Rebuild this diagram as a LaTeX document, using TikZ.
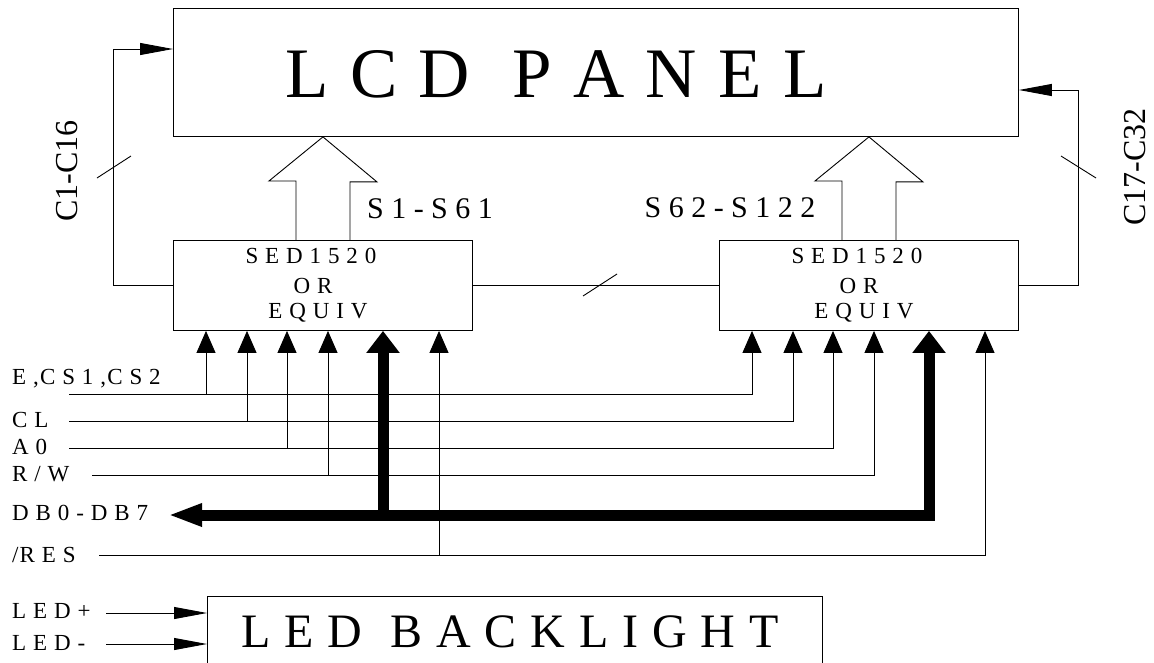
\documentclass[tikz,border=0pt]{standalone}
\usepackage{fontspec}
\setmainfont{Liberation Serif}
\usetikzlibrary{arrows.meta,calc}

\begin{document}
\begin{tikzpicture}[x=1pt,y=-1pt,
  box/.style={draw, line width=0.9pt, inner sep=0pt, anchor=north west},
  sig/.style={line width=0.9pt},
  pin/.style={sig, -{Triangle[length=22pt,width=19pt]}},
  side/.style={sig, -{Triangle[length=33pt,width=12pt]}},
  bus/.style={line width=11pt},
  lbl/.style={anchor=base west, inner sep=0pt, font=\fontsize{23}{23}\selectfont\addfontfeature{LetterSpace=5}},
  chiptxt/.style={anchor=base, inner sep=0pt, font=\fontsize{23}{23}\selectfont\addfontfeature{LetterSpace=5}}]
\clip (0,0) rectangle (1154,662);
%
\node[box, minimum width=845pt, minimum height=128pt] (lcd) at (173,8) {};
\node[anchor=base, inner sep=0pt, font=\fontsize{71}{71}\selectfont\addfontfeature{LetterSpace=5}] at (556,97) {L C D\ \ P A N E L};
%
\node[box, minimum width=299pt, minimum height=90pt] (chipL) at (173,240) {};
\node[box, minimum width=299pt, minimum height=90pt] (chipR) at (719,240) {};
\foreach \c in {chipL,chipR} {
  \node[chiptxt] at ($(\c.north)+(-12,23)$) {S E D 1 5 2 0};
  \node[chiptxt] at ($(\c.north)+(-10,53)$) {O R};
  \node[chiptxt] at ($(\c.north)+(-5,78)$) {E Q U I V};
  \foreach \i/\dx in {1/33,2/74,3/114,4/155,5/210,6/266}
    \coordinate (\c-\i) at ($(\c.south west)+(\dx,0)$);
  % segment bus up to the panel
  \draw[sig] ($(\c.north)+(-27,0)$) -- ++(0,-59) -- ++(-27,0) -- (\c.north |- lcd.south)
    -- ++(54,45) -- ++(-27,0) -- ++(0,59);
}
\node[anchor=base, inner sep=0pt, font=\fontsize{30}{30}\selectfont] at (430,218) {S 1 - S 6 1};
\node[anchor=base, inner sep=0pt, font=\fontsize{30}{30}\selectfont] at (730,217) {S 6 2 - S 1 2 2};
%
% common lines
\draw[side] (chipL.west) -- ++(-60,0) |- ($(lcd.north west)+(0,41)$);
\draw[side] (chipR.east) -- ++(60,0) |- ($(lcd.north east)+(0,82)$);
\draw[sig] (chipL.east) -- (chipR.west);
\draw[sig] (97,178) -- (131,156);
\draw[sig] (1061,156) -- (1096,178);
\draw[sig] (583,296) -- (617,274);
\node[rotate=90, font=\fontsize{32}{32}\selectfont] at (67,171) {C1-C16};
\node[rotate=90, font=\fontsize{32}{32}\selectfont] at (1135,167) {C17-C32};
%
% interface
\coordinate (wE) at (69,394);
\coordinate (wCL) at (69,421);
\coordinate (wA) at (69,448);
\coordinate (wRW) at (92,475);
\coordinate (wDB) at (168,515);
\coordinate (wRES) at (99,555);
\coordinate (wLp) at (106,613);
\coordinate (wLm) at (106,644);
\node[lbl] at (12,384) {E ,C S 1 ,C S 2};
\node[lbl] at (12,427) {C L};
\node[lbl] at (12,454) {A 0};
\node[lbl] at (12,481) {R / W};
\node[lbl] at (12,520) {D B 0 - D B 7};
\node[lbl] at (12,562) {/R E S};
\node[lbl] at (12,618) {L E D +};
\node[lbl] at (12,650) {L E D -};
\foreach \w/\i in {wE/1,wCL/2,wA/3,wRW/4,wRES/6} {
  \draw[pin] (\w) -| (chipR-\i);
  \draw[pin] (\w -| chipL-\i) -- (chipL-\i);
}
\draw[bus, {Triangle[length=34pt,width=21pt]}-{Triangle[length=22pt,width=32pt]}] (wDB) -| (chipR-5);
\draw[bus, -{Triangle[length=22pt,width=32pt]}] (wDB -| chipL-5) -- (chipL-5);
%
\node[box, minimum width=615pt, minimum height=120pt] (led) at (207,596) {};
\node[anchor=base, inner sep=0pt, font=\fontsize{48}{48}\selectfont\addfontfeature{LetterSpace=4}] at (510,647) {L E D\ \ B A C K L I G H T};
\draw[side] (wLp) -- (wLp -| led.west);
\draw[side] (wLm) -- (wLm -| led.west);
\end{tikzpicture}
\end{document}
